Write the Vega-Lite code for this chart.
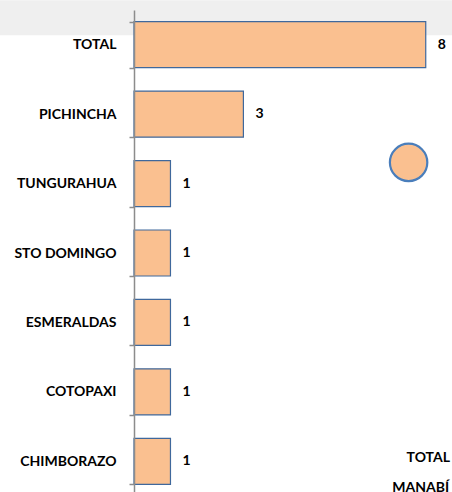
{
  "$schema": "https://vega.github.io/schema/vega-lite/v6.json",
  "autosize": "none",
  "width": 318,
  "height": 486,
  "padding": {"left": 134, "top": 10, "right": 0, "bottom": 0},
  "background": "white",
  "config": {"view": {"stroke": null}, "font": "Lato"},
  "datasets": {
    "bars": [
      {"provincia": "TOTAL", "casos": 8},
      {"provincia": "PICHINCHA", "casos": 3},
      {"provincia": "TUNGURAHUA", "casos": 1},
      {"provincia": "STO DOMINGO", "casos": 1},
      {"provincia": "ESMERALDAS", "casos": 1},
      {"provincia": "COTOPAXI", "casos": 1},
      {"provincia": "CHIMBORAZO", "casos": 1}
    ],
    "band": [{"provincia": "TOTAL", "x1": -3.68, "x2": 8.72}],
    "dot": [{"provincia": "TUNGURAHUA", "x": 7.53}],
    "note1": [{"provincia": "CHIMBORAZO", "x": 8.07, "texto": "TOTAL"}],
    "note2": [{"provincia": "CHIMBORAZO", "x": 7.86, "texto": "MANABÍ"}]
  },
  "encoding": {
    "y": {
      "field": "provincia", "type": "nominal",
      "scale": {
        "domain": ["TOTAL", "PICHINCHA", "TUNGURAHUA", "STO DOMINGO", "ESMERALDAS", "COTOPAXI", "CHIMBORAZO"],
        "paddingInner": 0.337, "paddingOuter": 0.168
      },
      "axis": {
        "title": null, "zindex": 1,
        "domainColor": "#8c8c8c", "domainWidth": 1.5,
        "tickColor": "#8c8c8c", "tickWidth": 1.5, "tickSize": 5,
        "tickBand": "extent",
        "labelPadding": 13, "labelFont": "Lato", "labelFontWeight": "bold",
        "labelFontSize": 14, "labelColor": "#000000", "labelLimit": 200
      }
    }
  },
  "layer": [
    {
      "data": {"name": "band"},
      "mark": {"type": "rule", "strokeWidth": 35, "color": "#efefef"},
      "encoding": {
        "y": {"field": "provincia", "type": "nominal", "bandPosition": -0.087},
        "x": {"field": "x1", "type": "quantitative", "scale": {"domain": [0, 8.72], "nice": false}, "axis": null},
        "x2": {"field": "x2"}
      }
    },
    {
      "data": {"name": "bars"},
      "mark": {"type": "bar", "fill": "#fac090", "stroke": "#3f689c", "strokeWidth": 1.2},
      "encoding": {
        "x": {"field": "casos", "type": "quantitative"}
      }
    },
    {
      "data": {"name": "bars"},
      "mark": {"type": "text", "align": "left", "dx": 12, "font": "Lato", "fontWeight": "bold", "fontSize": 14, "color": "#000000"},
      "encoding": {
        "x": {"field": "casos", "type": "quantitative"},
        "text": {"field": "casos", "type": "quantitative"}
      }
    },
    {
      "data": {"name": "dot"},
      "mark": {"type": "point", "shape": "circle", "filled": true, "fill": "#fac090", "stroke": "#4a7ebb", "strokeWidth": 2.2, "size": 1400, "opacity": 1},
      "encoding": {
        "y": {"field": "provincia", "type": "nominal", "bandPosition": 0.04},
        "x": {"field": "x", "type": "quantitative"}
      }
    },
    {
      "data": {"name": "note1"},
      "mark": {"type": "text", "align": "center", "font": "Lato", "fontWeight": "bold", "fontSize": 14, "color": "#000000"},
      "encoding": {
        "y": {"field": "provincia", "type": "nominal", "bandPosition": 0.43},
        "x": {"field": "x", "type": "quantitative"},
        "text": {"field": "texto", "type": "nominal"}
      }
    },
    {
      "data": {"name": "note2"},
      "mark": {"type": "text", "align": "center", "font": "Lato", "fontWeight": "bold", "fontSize": 14, "color": "#000000"},
      "encoding": {
        "y": {"field": "provincia", "type": "nominal", "bandPosition": 1.07},
        "x": {"field": "x", "type": "quantitative"},
        "text": {"field": "texto", "type": "nominal"}
      }
    }
  ]
}
